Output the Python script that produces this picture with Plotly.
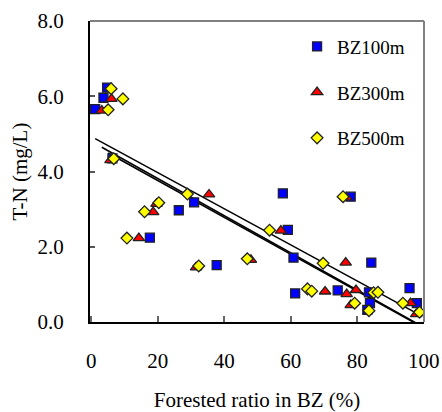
import numpy as np
import plotly.graph_objects as go

# Forested ratio in the buffer zone (%) and total nitrogen (mg/L), per buffer width
bz100_x = [4.75, 3.65, 1.15, 6.35, 30.9, 26.3, 17.6, 37.7, 57.6, 78.0, 59.1,
           60.8, 84.2, 61.3, 74.1, 83.5, 95.7, 83.8, 83.0, 97.9]
bz100_y = [6.23, 5.96, 5.66, 4.35, 3.18, 2.97, 2.24, 1.51, 3.42, 3.33, 2.45,
           1.71, 1.58, 0.76, 0.84, 0.79, 0.90, 0.50, 0.32, 0.50]

bz300_x = [6.05, 3.15, 5.75, 35.4, 19.6, 18.6, 14.3, 31.5, 48.0, 57.0, 76.5,
           76.7, 70.3, 76.8, 79.6, 78.0, 96.0, 97.7]
bz300_y = [5.93, 5.62, 4.30, 3.39, 3.14, 2.92, 2.23, 1.45, 1.65, 2.43, 1.58,
           3.31, 0.81, 0.74, 0.85, 0.45, 0.50, 0.21]

bz500_x = [5.95, 9.5, 5.05, 6.75, 28.9, 20.3, 16.0, 10.7, 32.3, 46.9, 53.6,
           75.7, 69.7, 65.0, 66.3, 84.9, 86.2, 79.2, 93.7, 98.7, 83.5]
bz500_y = [6.20, 5.93, 5.64, 4.34, 3.40, 3.17, 2.93, 2.23, 1.49, 1.68, 2.44,
           3.33, 1.56, 0.88, 0.82, 0.78, 0.79, 0.50, 0.50, 0.26, 0.30]

# linear trend coefficients (T-N = slope * ratio + intercept)
trend_slope = [-0.0480, -0.0494, -0.0490]
trend_intercept = [4.93, 4.80, 4.74]

x_ticks = [0, 20, 40, 60, 80, 100]
y_ticks = [0, 2, 4, 6, 8]
y_tick_text = ["0.0", "2.0", "4.0", "6.0", "8.0"]

series = [
    ("BZ100m", bz100_x, bz100_y, "square", "#0000FF", 9),
    ("BZ300m", bz300_x, bz300_y, "triangle-up", "#FF0000", 10),
    ("BZ500m", bz500_x, bz500_y, "diamond", "#FFFF00", 9),
]

FONT = "Liberation Serif, Times New Roman, serif"

fig = go.Figure()

# trend line over each series' own ratio range
for (name, xs, ys, sym, col, sz), m, b in zip(series, trend_slope, trend_intercept):
    xl = np.array([min(xs), max(xs)])
    fig.add_trace(go.Scatter(
        x=xl, y=m * xl + b, mode="lines",
        line=dict(color="black", width=1.5), showlegend=False, hoverinfo="skip"))

for name, xs, ys, sym, col, sz in series:
    fig.add_trace(go.Scatter(
        x=xs, y=ys, mode="markers", name=name, legendgroup=name,
        marker=dict(symbol=sym, color=col, size=sz,
                    line=dict(color="#222222", width=1.3))))

# grey frame on top and right
fig.add_shape(type="line", xref="paper", yref="paper", x0=0, x1=1, y0=1, y1=1,
              line=dict(color="#808080", width=2))
fig.add_shape(type="line", xref="paper", yref="paper", x0=1, x1=1, y0=0, y1=1,
              line=dict(color="#808080", width=2))

fig.update_layout(
    width=442, height=412,
    margin=dict(l=90, r=18, t=21, b=90, autoexpand=False),
    paper_bgcolor="white", plot_bgcolor="white",
    font=dict(family=FONT, size=21, color="black"),
    showlegend=True,
    legend=dict(x=0.62, y=0.978, xanchor="left", yanchor="top",
                font=dict(family=FONT, size=19), tracegroupgap=18,
                bgcolor="rgba(0,0,0,0)"),
    xaxis=dict(range=[-0.4, 100.05], tickvals=x_ticks, ticks="inside",
               ticklen=6, tickwidth=1.5, tickcolor="#666666",
               showline=True, linecolor="black", linewidth=2,
               showgrid=False, zeroline=False, ticklabelstandoff=19,
               automargin=False,
               tickfont=dict(family=FONT, size=21),
               title=dict(text="Forested ratio in BZ (%)", standoff=20,
                          font=dict(family=FONT, size=21))),
    yaxis=dict(range=[0, 8], tickvals=y_ticks, ticktext=y_tick_text,
               ticks="inside", ticklen=5, tickwidth=1.5, tickcolor="#555555",
               showline=True, linecolor="black", linewidth=2,
               showgrid=False, zeroline=False, ticklabelstandoff=20,
               automargin=False,
               tickfont=dict(family=FONT, size=21),
               title=dict(text="T-N (mg/L)", standoff=4,
                          font=dict(family=FONT, size=21))),
)

fig.write_html("out.html")
